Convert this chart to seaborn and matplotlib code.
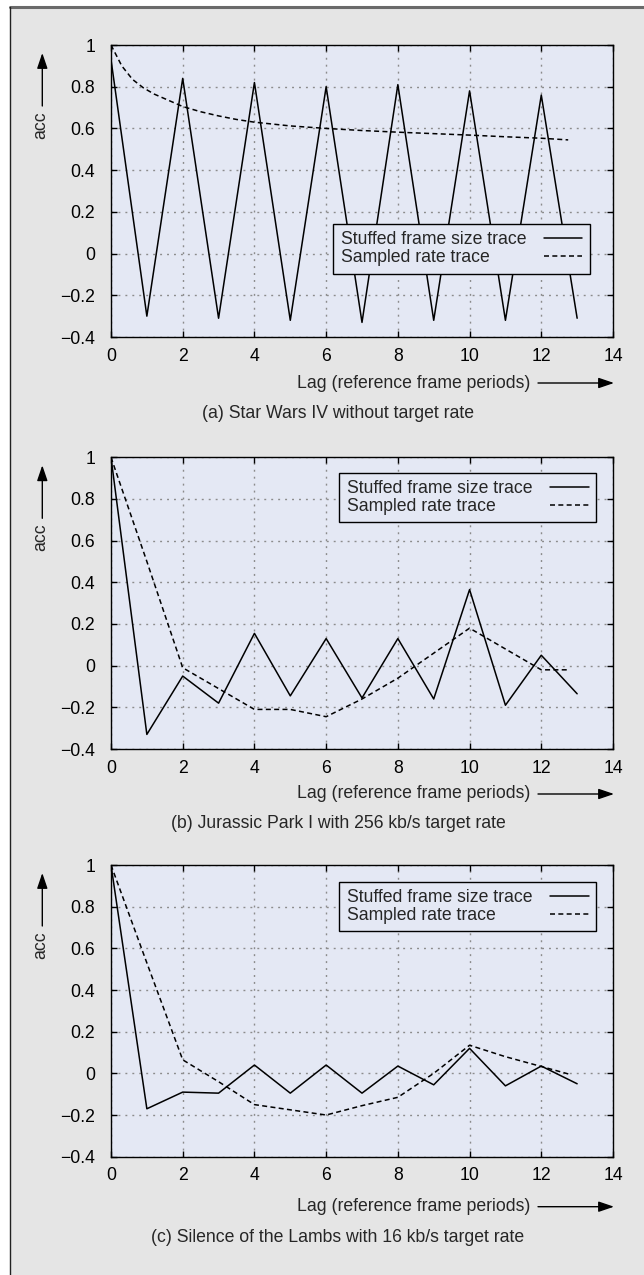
import matplotlib
matplotlib.use("Agg")
import matplotlib.pyplot as plt
import seaborn as sns
import pandas as pd
from matplotlib.patches import Rectangle, FancyArrowPatch
from matplotlib.lines import Line2D

# ---------------- data ----------------
lag = list(range(14))
stuffed_a = [0.93, -0.30, 0.84, -0.31, 0.82, -0.32, 0.80, -0.33, 0.81, -0.32, 0.78, -0.32, 0.76, -0.31]
rate_lag_a = [0, 0.3, 0.6, 0.9, 1.2, 1.6, 2.0, 2.5, 3.0, 3.5, 4.0, 5.0, 6.0, 7.0, 8.0, 9.0, 10.0, 11.0, 12.0, 12.75]
rate_a = [1.0, 0.90, 0.835, 0.795, 0.765, 0.735, 0.705, 0.68, 0.66, 0.643, 0.63, 0.612, 0.60, 0.59,
          0.582, 0.575, 0.568, 0.56, 0.553, 0.545]

stuffed_b = [1.0, -0.33, -0.05, -0.18, 0.155, -0.145, 0.13, -0.155, 0.13, -0.16, 0.365, -0.19, 0.05, -0.135]
rate_lag_b = [0, 1, 2, 3, 4, 5, 6, 7, 8, 9, 10, 11, 12, 12.8]
rate_b = [1.0, 0.50, -0.01, -0.11, -0.21, -0.21, -0.245, -0.16, -0.06, 0.06, 0.18, 0.08, -0.02, -0.02]

stuffed_c = [1.0, -0.17, -0.09, -0.095, 0.04, -0.095, 0.04, -0.095, 0.035, -0.055, 0.12, -0.06, 0.035, -0.05]
rate_lag_c = [0, 1, 2, 3, 4, 5, 6, 7, 8, 9, 10, 11, 12, 12.8]
rate_c = [1.0, 0.53, 0.065, -0.04, -0.15, -0.175, -0.2, -0.155, -0.115, 0.0, 0.135, 0.08, 0.033, -0.005]

captions = ["(a) Star Wars IV without target rate",
            "(b) Jurassic Park I with 256 kb/s target rate",
            "(c) Silence of the Lambs with 16 kb/s target rate"]
series_names = ["Stuffed frame size trace", "Sampled rate trace"]
x_label = "Lag (reference frame periods)"
y_label = "acc"
x_ticks = [0, 2, 4, 6, 8, 10, 12, 14]
y_ticks = [-0.4, -0.2, 0, 0.2, 0.4, 0.6, 0.8, 1]
y_tick_labels = ["\u22120.4", "\u22120.2", "0", "0.2", "0.4", "0.6", "0.8", "1"]

# ---------------- style ----------------
sns.set_style("ticks")
plt.rcParams['font.family'] = ['Liberation Sans', 'DejaVu Sans']
plt.rcParams['lines.scale_dashes'] = False

W, H = 644, 1275
FS = 12.7
AX_BG = "#e4e8f4"
FIG_BG = "#e5e5e5"

fig = plt.figure(figsize=(W / 100, H / 100), dpi=100)
fig.patch.set_facecolor("white")


def fx(x):
    return x / W


def fy(y):
    return 1 - y / H


# background panel + frame lines
fig.add_artist(Rectangle((fx(10), 0), 1 - fx(10), fy(7), transform=fig.transFigure,
                         facecolor=FIG_BG, edgecolor="none", zorder=-10))
fig.add_artist(Line2D([fx(10), 1], [fy(7), fy(7)], transform=fig.transFigure, color="#6a6a6a", lw=2.2))
fig.add_artist(Line2D([fx(10), fx(10)], [0, fy(7)], transform=fig.transFigure, color="#222222", lw=1.0))

# axes geometry in pixels: left, right, top, bottom
AX_L, AX_R = 111, 613
panels = [
    dict(top=45, bottom=337, stuffed=stuffed_a, rlag=rate_lag_a, rate=rate_a,
         leg_anchor=(0.954, 0.387), lag_y=383, cap_y=413, cap_x=338),
    dict(top=457.3, bottom=749, stuffed=stuffed_b, rlag=rate_lag_b, rate=rate_b,
         leg_anchor=(0.966, 0.947), lag_y=794, cap_y=824, cap_x=338),
    dict(top=865, bottom=1156.7, stuffed=stuffed_c, rlag=rate_lag_c, rate=rate_c,
         leg_anchor=(0.966, 0.943), lag_y=1206.7, cap_y=1238, cap_x=338),
]

legends = []
for i, p in enumerate(panels):
    ax = fig.add_axes([fx(AX_L), fy(p["bottom"]), (AX_R - AX_L) / W, (p["bottom"] - p["top"]) / H])
    ax.set_facecolor(AX_BG)

    df_s = pd.DataFrame({"lag": lag, "acc": p["stuffed"]})
    df_r = pd.DataFrame({"lag": p["rlag"], "acc": p["rate"]})
    sns.lineplot(data=df_s, x="lag", y="acc", ax=ax, color="black", lw=1.1,
                 label=series_names[0], zorder=3)
    sns.lineplot(data=df_r, x="lag", y="acc", ax=ax, color="black", lw=1.1,
                 label=series_names[1], zorder=3)
    ax.lines[1].set_dashes([3.6, 2.4])

    ax.set_xlim(0, 14)
    ax.set_ylim(-0.4, 1)
    ax.set_xticks(x_ticks)
    ax.set_xticklabels([str(t) for t in x_ticks])
    ax.set_yticks(y_ticks)
    ax.set_yticklabels(y_tick_labels)
    ax.set_xlabel("")
    ax.set_ylabel("")
    ax.tick_params(direction="in", length=4.3, width=1, top=True, right=True,
                   labelsize=FS, colors="black")
    ax.tick_params(axis="y", pad=11.5)
    ax.tick_params(axis="x", pad=7.7)
    ax.grid(True, color="#8c8c8c", lw=1.0, dashes=(1.4, 3.6))
    ax.set_axisbelow(True)
    for s in ax.spines.values():
        s.set_linewidth(1.0)
        s.set_color("black")
        s.set_visible(True)

    leg = ax.legend(loc="upper right", bbox_to_anchor=p["leg_anchor"], borderaxespad=0,
                    markerfirst=False, fontsize=FS, frameon=True, fancybox=False,
                    framealpha=1, facecolor=AX_BG, edgecolor="black",
                    handlelength=2.2, handletextpad=1.0, labelspacing=0.05,
                    borderpad=0.42)
    leg.get_frame().set_linewidth(1.0)
    leg.set_zorder(5)
    legends.append(leg)

    # x label with arrow
    fig.text(fx(530), fy(p["lag_y"]), x_label, ha="right", va="center", fontsize=FS)
    fig.add_artist(FancyArrowPatch(
        (fx(538), fy(p["lag_y"])), (fx(614), fy(p["lag_y"])), transform=fig.transFigure,
        arrowstyle="-|>,head_length=0.94,head_width=0.32", mutation_scale=10,
        color="black", lw=1.0, shrinkA=0, shrinkB=0))

    # y label with arrow
    top = p["top"]
    fig.text(fx(41), fy(top + 80), y_label, ha="center", va="center", rotation=90, fontsize=FS)
    fig.add_artist(FancyArrowPatch(
        (fx(42.3), fy(top + 61)), (fx(42.3), fy(top + 8)), transform=fig.transFigure,
        arrowstyle="-|>,head_length=0.94,head_width=0.32", mutation_scale=10,
        color="black", lw=1.0, shrinkA=0, shrinkB=0))

    # caption
    fig.text(fx(p["cap_x"]), fy(p["cap_y"]), captions[i], ha="center", va="center", fontsize=FS)

# left-align legend labels while keeping the line samples on the right
fig.canvas.draw()
rend = fig.canvas.get_renderer()
p2px = rend.points_to_pixels(1.0)
for leg in legends:
    for col in leg._legend_handle_box.get_children():
        rows = col.get_children()
        tw = [row.get_children()[0].get_bbox(rend).width for row in rows]
        mx = max(tw)
        for row, w in zip(rows, tw):
            row.sep = row.sep + (mx - w) / p2px

fig.savefig("out.png", dpi=100, facecolor=fig.get_facecolor())
